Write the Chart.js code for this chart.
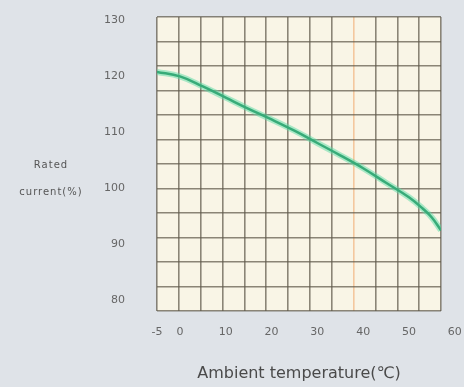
<!DOCTYPE html>
<html>
<head>
<meta charset="utf-8">
<script src="https://cdn.jsdelivr.net/npm/chart.js@4"></script>
<style>
  html, body { margin: 0; padding: 0; background: #dfe3e8; }
  #wrap { position: relative; width: 464px; height: 387px; }
  #ytitle {
    position: absolute; left: 6px; top: 151px; width: 90px;
    text-align: center; font: 10px "DejaVu Sans"; letter-spacing: 1px;
    color: #555; line-height: 27px;
  }
</style>
</head>
<body>
<div id="wrap">
  <canvas id="chart" width="464" height="387"></canvas>
  <div id="ytitle">Rated<br>current(%)</div>
</div>
<script>
// derating curve
const temps = [-5, 0, 5, 10, 15, 20, 25, 30, 35, 40, 45, 50, 53, 55, 57];
const rated = [120.7, 119.9, 118.1, 116.1, 114.1, 112.2, 110.2, 108.0, 105.8, 103.5, 100.9, 98.3, 96.3, 94.7, 92.4];

const xTicks = [-5, 0, 10, 20, 30, 40, 50, 60];
const yTicks = [80, 90, 100, 110, 120, 130];

// the paper grid doesn't line up with the labels
const gridCols = 13;
const gridRows = 12;
const orangeCol = 9;

const points = temps.map((t, i) => ({ x: t, y: rated[i] }));

const plotBg = {
  id: 'plotBg',
  beforeDraw(chart) {
    const a = chart.chartArea;
    const c = chart.ctx;
    c.save();
    c.fillStyle = '#f9f5e6';
    c.fillRect(a.left, a.top, a.right - a.left, a.bottom - a.top);
    c.restore();
  }
};

// labels overflow the axis ends on purpose, don't let that shrink the plot
function noPad(s) {
  s.paddingTop = s.paddingBottom = s.paddingLeft = s.paddingRight = 0;
}

const tickFont = { family: 'DejaVu Sans', size: 11 };
const gridCol = 'rgba(95,90,75,0.72)';

new Chart(document.getElementById('chart'), {
  type: 'line',
  data: {
    datasets: [
      { data: points, borderColor: 'rgba(90,220,165,0.5)', borderWidth: 6, pointRadius: 0, tension: 0.4 },
      { data: points, borderColor: '#147a4b', borderWidth: 2.5, pointRadius: 0, tension: 0.4 }
    ]
  },
  options: {
    responsive: false,
    animation: false,
    layout: { padding: { top: 17, right: 23, left: 0, bottom: 0 } },
    plugins: { legend: { display: false }, tooltip: { enabled: false } },
    scales: {
      x: {
        type: 'linear', min: -5, max: 57,
        afterBuildTicks: s => { s.ticks = xTicks.map(v => ({ value: v })); },
        afterFit: s => { s.height = 76; noPad(s); },
        grid: { display: false },
        border: { display: false },
        ticks: { autoSkip: false, maxRotation: 0, padding: 7, color: '#666', font: tickFont },
        title: { display: true, text: 'Ambient temperature(℃)', color: '#4a4a4a',
                 font: { family: 'DejaVu Sans', size: 16 }, padding: { top: 0, bottom: 4 } }
      },
      y: {
        type: 'linear', min: 78, max: 130.5,
        afterBuildTicks: s => { s.ticks = yTicks.map(v => ({ value: v })); },
        afterFit: s => { s.width = 157; noPad(s); },
        grid: { display: false },
        border: { display: false },
        ticks: { padding: 24, color: '#666', font: tickFont }
      },
      xg: {
        type: 'linear', position: 'bottom', min: 0, max: gridCols,
        afterBuildTicks: s => { s.ticks = Array.from({ length: gridCols + 1 }, (_, i) => ({ value: i })); },
        afterFit: s => { s.height = 0; noPad(s); },
        ticks: { display: false },
        border: { display: false },
        grid: {
          drawTicks: false, lineWidth: 1.6,
          color: c => c.tick && c.tick.value === orangeCol ? 'rgba(240,170,110,0.6)' : gridCol
        }
      },
      yg: {
        type: 'linear', position: 'left', min: 0, max: gridRows,
        afterBuildTicks: s => { s.ticks = Array.from({ length: gridRows + 1 }, (_, i) => ({ value: i })); },
        afterFit: s => { s.width = 0; noPad(s); },
        ticks: { display: false },
        border: { display: false },
        grid: { drawTicks: false, lineWidth: 1.6, color: gridCol }
      }
    }
  },
  plugins: [plotBg]
});
</script>
</body>
</html>
